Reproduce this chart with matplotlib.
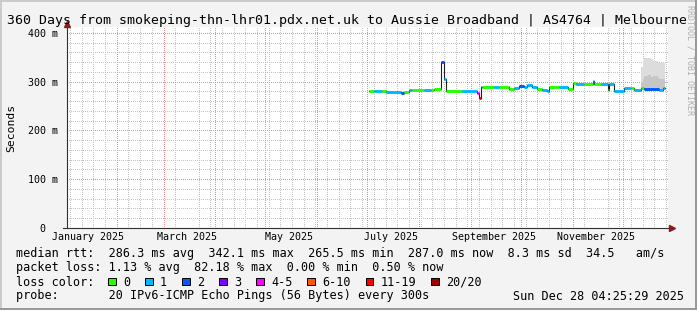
import matplotlib
matplotlib.use("Agg")
import matplotlib.pyplot as plt
import matplotlib.dates as mdates
from matplotlib.ticker import MultipleLocator, FuncFormatter
from matplotlib.patches import Rectangle
import numpy as np
import pandas as pd

W, H = 697, 310
MONO = "DejaVu Sans Mono"

# time window of the graph (360 days)
t_start = "2025-01-02 04:25:29"
t_end = "2025-12-28 04:25:29"

# median rtt steps: start of step, value (ms), loss class index
med_start = ["2025-07-02", "2025-07-05", "2025-07-08", "2025-07-10", "2025-07-12",
             "2025-07-21", "2025-07-23", "2025-07-26", "2025-07-28", "2025-08-04",
             "2025-08-08", "2025-08-10", "2025-08-14", "2025-08-16", "2025-08-17",
             "2025-08-27", "2025-09-05", "2025-09-06", "2025-09-07", "2025-09-08",
             "2025-09-15", "2025-09-18", "2025-09-24", "2025-09-27", "2025-09-30",
             "2025-10-03", "2025-10-05", "2025-10-08", "2025-10-11", "2025-10-14",
             "2025-10-17", "2025-10-18", "2025-10-24", "2025-10-29", "2025-11-01",
             "2025-11-03", "2025-11-08", "2025-11-13", "2025-11-14", "2025-11-18",
             "2025-11-22", "2025-11-23", "2025-11-26", "2025-12-02", "2025-12-06",
             "2025-12-08", "2025-12-12", "2025-12-14", "2025-12-23", "2025-12-25"]
med_value = [280, 280, 281, 281, 279,
             276, 278, 283, 282, 282,
             282, 285, 341, 305, 281,
             280, 276, 266, 288, 290,
             290, 289, 285, 286, 291,
             290, 293, 289, 285, 283,
             280, 290, 290, 285, 297,
             295, 295, 302, 295, 295,
             283, 296, 280, 287, 286,
             282, 286, 285, 282, 286]
med_loss = [0, 1, 1, 0, 1,
            2, 0, 1, 0, 1,
            0, 0, 2, 1, 0,
            1, 4, 6, 2, 0,
            1, 0, 0, 1, 2,
            1, 1, 1, 0, 1,
            1, 0, 1, 0, 0,
            1, 0, 1, 0, 1,
            0, 1, 1, 1, 0,
            1, 0, 2, 1, 1]
data_end = "2025-12-26 06:00"

# smoke (spread of the single pings), steps; nan = no smoke
smoke_start = ["2025-07-10", "2025-07-12", "2025-08-25", "2025-08-26",
               "2025-10-30", "2025-10-31",
               "2025-12-12", "2025-12-13", "2025-12-14", "2025-12-16",
               "2025-12-18", "2025-12-19", "2025-12-22", "2025-12-23"]
smoke_lo = [279, np.nan, 279, np.nan, 286, np.nan,
            282, 282, 282, 282, 282, 282, 282, 282]
smoke_mid = [283, np.nan, 282, np.nan, 291, np.nan,
             300, 306, 312, 314, 310, 311, 308, 306]
smoke_hi = [288, np.nan, 285, np.nan, 298, np.nan,
            331, 345, 348, 348, 346, 343, 340, 339]

loss_labels = ["0", "1", "2", "3", "4-5", "6-10", "11-19", "20/20"]
loss_colors = ["#26ff00", "#00b8ff", "#0059ff", "#7e00ff",
               "#ff00ff", "#ff5500", "#ff0000", "#a10000"]

legend_rows = [
    "median rtt:  286.3 ms avg  342.1 ms max  265.5 ms min  287.0 ms now  8.3 ms sd  34.5   am/s",
    "packet loss: 1.13 % avg  82.18 % max  0.00 % min  0.50 % now",
]
probe_text = "probe:       20 IPv6-ICMP Echo Pings (56 Bytes) every 300s"
stamp_text = "Sun Dec 28 04:25:29 2025"
title = "360 Days from smokeping-thn-lhr01.pdx.net.uk to Aussie Broadband | AS4764 | Melbourne"


def fx(x):
    return x / W


def fy(y):
    return 1 - y / H


def to_dt(lst):
    return pd.to_datetime(lst, format="ISO8601")


fig = plt.figure(figsize=(W / 100, H / 100), dpi=100, facecolor="#f3f3f3")

# 3d-ish frame like rrdtool
fig.add_artist(Rectangle((0, fy(2)), 1, 2 / H, transform=fig.transFigure, color="#cbcbcb", lw=0))
fig.add_artist(Rectangle((0, 0), 2 / W, 1, transform=fig.transFigure, color="#cbcbcb", lw=0))
fig.add_artist(Rectangle((0, 0), 1, 2 / H, transform=fig.transFigure, color="#999999", lw=0))
fig.add_artist(Rectangle((fx(W - 2), 0), 2 / W, 1, transform=fig.transFigure, color="#999999", lw=0))

ax = fig.add_axes([fx(67), fy(228), 601 / W, 201 / H])
ax.set_facecolor("white")
for s in ax.spines.values():
    s.set_visible(False)

t0, t1 = pd.Timestamp(t_start), pd.Timestamp(t_end)
ax.set_xlim(t0, t1)
ax.set_ylim(0, 412)

# grid: 1px dots, like rrdtool (offset half a pixel so dots land on pixels)
grid_kw = dict(linestyle=(0.5, (1, 1)), linewidth=0.72)
ax.xaxis.set_minor_locator(mdates.WeekdayLocator(byweekday=mdates.SA))
ax.yaxis.set_minor_locator(MultipleLocator(20))
ax.yaxis.set_major_locator(MultipleLocator(100))
ax.grid(which="minor", axis="both", color="#c4c4c4", **grid_kw)
ax.grid(which="major", axis="y", color="#ee9090", **grid_kw)
for d in pd.date_range("2025-02-01", "2025-12-01", freq="MS"):
    ax.axvline(d, color="#ee9090", zorder=0.6, **grid_kw)
ax.set_axisbelow(True)

# x labels in the middle of odd months
ax.xaxis.set_major_locator(mdates.MonthLocator(bymonth=[1, 3, 5, 7, 9, 11], bymonthday=15))
ax.xaxis.set_major_formatter(mdates.DateFormatter("%B %Y"))
ax.yaxis.set_major_formatter(FuncFormatter(lambda v, p: "0  " if v == 0 else "%d m" % v))
ax.tick_params(which="both", length=0)
ax.tick_params(axis="x", pad=3, labelsize=7.2)
ax.tick_params(axis="y", pad=6.5, labelsize=7.2)
for lab in ax.get_xticklabels() + ax.get_yticklabels():
    lab.set_family(MONO)

# smoke
s_start = to_dt(smoke_start + [data_end])
lo = smoke_lo + [smoke_lo[-1]]
mid = smoke_mid + [smoke_mid[-1]]
hi = smoke_hi + [smoke_hi[-1]]
ax.fill_between(s_start, lo, hi, step="post", color="#dcdcdc", lw=0, zorder=2)
ax.fill_between(s_start, lo, mid, step="post", color="#c6c6c6", lw=0, zorder=2.1)

# median line
m_start = to_dt(med_start)
m_end = to_dt(med_start[1:] + [data_end])
ax.step(list(m_start) + [pd.Timestamp(data_end)], med_value + [med_value[-1]],
        where="post", color="#202020", lw=0.8, zorder=3)
ax.hlines(med_value, mdates.date2num(m_start), mdates.date2num(m_end),
          colors=[loss_colors[i] for i in med_loss], lw=2.1, zorder=4)

# axes with arrows
ax.plot([0, 0], [0, 1.012], transform=ax.transAxes, color="#303030", lw=0.8, clip_on=False, zorder=5)
ax.plot([-0.0067, 1.002], [0, 0], transform=ax.transAxes, color="#303030", lw=0.8, clip_on=False, zorder=5)
ax.plot([0], [1.016], marker="^", ms=4.3, color="#8b1a1a", transform=ax.transAxes, clip_on=False, zorder=6)
ax.plot([1.006], [0], marker=">", ms=4.3, color="#8b1a1a", transform=ax.transAxes, clip_on=False, zorder=6)

# texts
fig.text(fx(347), fy(24), title, ha="center", va="baseline", family=MONO, fontsize=9.5)
fig.text(fx(11), fy(127.5), "Seconds", rotation=90, ha="center", va="center", family=MONO, fontsize=8.2)
fig.text(fx(690), fy(5), "RRDTOOL / TOBI OETIKER", rotation=270, ha="center", va="top",
         family=MONO, fontsize=6, color="#b0b0b0")

for i, row in enumerate(legend_rows):
    fig.text(fx(16), fy(257.5 + 14 * i), row, ha="left", va="baseline", family=MONO, fontsize=8.45)
fig.text(fx(16), fy(285.5), "loss color:", ha="left", va="baseline", family=MONO, fontsize=8.45)
pos = 108
for lab, col in zip(loss_labels, loss_colors):
    fig.add_artist(Rectangle((fx(pos), fy(285)), 7.5 / W, 7.5 / H, transform=fig.transFigure,
                             facecolor=col, edgecolor="black", lw=0.7))
    fig.text(fx(pos + 15), fy(285.5), lab, ha="left", va="baseline", family=MONO, fontsize=8.45)
    pos += len(lab) * 7.07 + 30
fig.text(fx(16), fy(299.5), probe_text, ha="left", va="baseline", family=MONO, fontsize=8.45)
fig.text(fx(513), fy(299.5), stamp_text, ha="left", va="baseline", family=MONO, fontsize=8.45)

fig.savefig("out.png", dpi=100, facecolor=fig.get_facecolor())
